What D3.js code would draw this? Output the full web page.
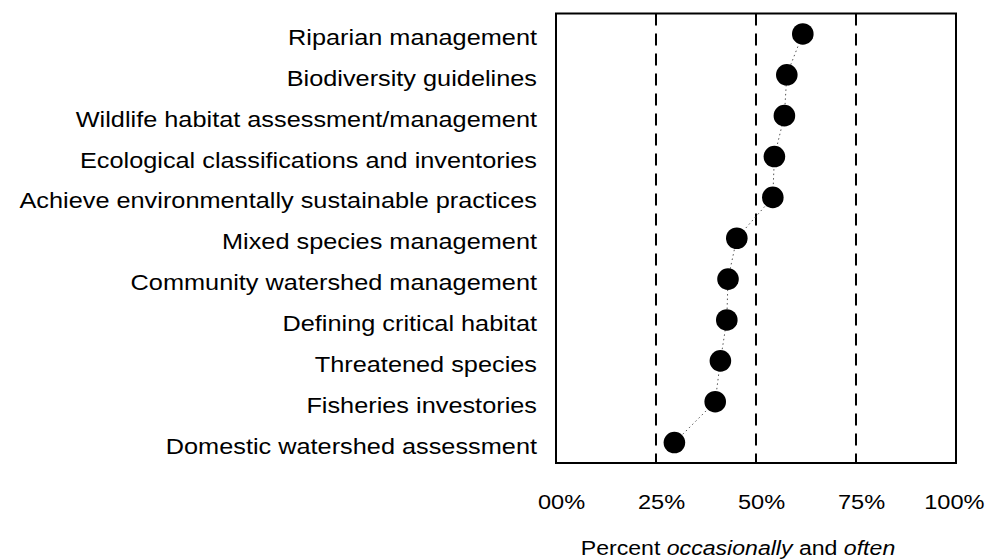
<!DOCTYPE html>
<meta charset="utf-8">
<script src="https://d3js.org/d3.v7.min.js"></script>
<style>
  body { margin: 0; background: #fff; }
  svg text { font-family: "Liberation Sans", Arial, sans-serif; fill: #000; }
</style>
<div id="my_dataviz"></div>
<script>

// data
var categories = [
  "Riparian management",
  "Biodiversity guidelines",
  "Wildlife habitat assessment/management",
  "Ecological classifications and inventories",
  "Achieve environmentally sustainable practices",
  "Mixed species management",
  "Community watershed management",
  "Defining critical habitat",
  "Threatened species",
  "Fisheries investories",
  "Domestic watershed assessment"
];
var values = [61.7, 57.7, 57.1, 54.6, 54.2, 45.2, 43.0, 42.7, 41.1, 39.8, 29.6];
var tickValues = [0, 25, 50, 75, 100];
var tickLabels = ["00%", "25%", "50%", "75%", "100%"];
var gridValues = [25, 50, 75];

// set the dimensions and margins of the graph
var margin = {top: 13.5, right: 29, bottom: 96, left: 556},
    width = 985 - margin.left - margin.right,
    height = 559 - margin.top - margin.bottom;

var svg = d3.select("#my_dataviz")
  .append("svg")
    .attr("width", 985)
    .attr("height", 559)
  .append("g")
    .attr("transform", "translate(" + margin.left + "," + margin.top + ")");

// scales
var x = d3.scaleLinear()
  .domain([0, 100])
  .range([0, width]);

var y = d3.scalePoint()
  .domain(categories)
  .range([0, height])
  .padding(0.5);

// dashed gridlines
svg.selectAll(".grid")
  .data(gridValues)
  .enter()
  .append("line")
    .attr("x1", function(d) { return x(d); })
    .attr("x2", function(d) { return x(d); })
    .attr("y1", 0)
    .attr("y2", height)
    .attr("stroke", "#000")
    .attr("stroke-width", 2)
    .attr("stroke-dasharray", "12,8");

// frame
svg.append("rect")
  .attr("x", 0)
  .attr("y", 0)
  .attr("width", width)
  .attr("height", height)
  .attr("fill", "none")
  .attr("stroke", "#000")
  .attr("stroke-width", 2);

// X axis (labels only)
var xAxis = svg.append("g")
  .attr("transform", "translate(0," + height + ")")
  .call(d3.axisBottom(x)
    .tickValues(tickValues)
    .tickFormat(function(d, i) { return tickLabels[i]; })
    .tickSize(0));
xAxis.select(".domain").remove();
xAxis.selectAll("text")
  .attr("y", 0)
  .attr("dy", 0)
  .attr("transform", "translate(5,46) scale(1.15,1)")
  .style("font-size", "20.5px");
// last label sits flush with the right edge
xAxis.selectAll("text")
  .filter(function(d) { return d === 100; })
  .attr("transform", "translate(" + (984 - margin.left - width) + ",46) scale(1.15,1)")
  .style("text-anchor", "end");

// Y axis (labels only)
var yAxis = svg.append("g")
  .call(d3.axisLeft(y).tickSize(0));
yAxis.select(".domain").remove();
yAxis.selectAll("text")
  .attr("x", 0)
  .attr("dy", 0)
  .attr("y", 0)
  .attr("transform", "translate(-19,10.5) scale(1.125,1)")
  .style("text-anchor", "end")
  .style("font-size", "22.5px");

// dotted connecting line
var line = d3.line()
  .x(function(d) { return x(d); })
  .y(function(d, i) { return y(categories[i]); });

svg.append("path")
  .datum(values)
  .attr("d", line)
  .attr("fill", "none")
  .attr("stroke", "#555")
  .attr("stroke-width", 1)
  .attr("stroke-dasharray", "1.5,3");

// dots
svg.selectAll(".dot")
  .data(values)
  .enter()
  .append("circle")
    .attr("cx", function(d) { return x(d); })
    .attr("cy", function(d, i) { return y(categories[i]); })
    .attr("r", 10.8)
    .attr("fill", "#000");

// axis title
var title = svg.append("text")
  .attr("transform", "translate(" + (x(50) - 18) + "," + (height + 92) + ") scale(1.1,1)")
  .style("text-anchor", "middle")
  .style("font-size", "21px");
title.append("tspan").text("Percent ");
title.append("tspan").style("font-style", "italic").text("occasionally");
title.append("tspan").text(" and ");
title.append("tspan").style("font-style", "italic").text("often");

</script>
